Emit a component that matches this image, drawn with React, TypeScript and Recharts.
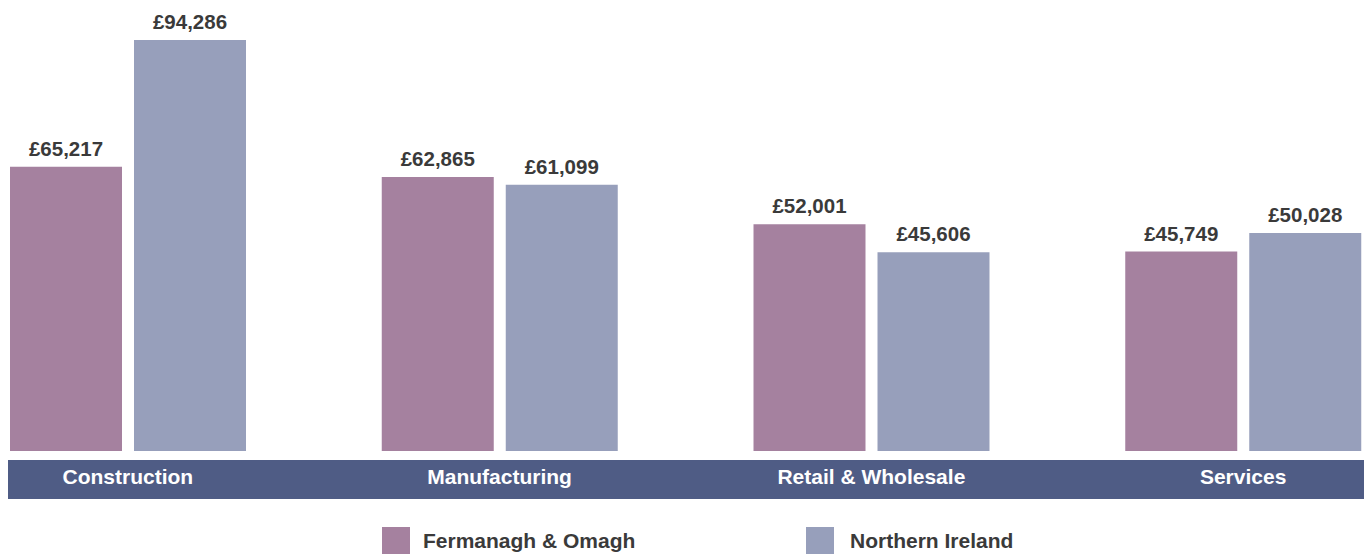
import { BarChart, Bar, XAxis, YAxis, LabelList } from 'recharts';

const categories = ['Construction', 'Manufacturing', 'Retail & Wholesale', 'Services'];
const fermanaghOmagh = [65217, 62865, 52001, 45749];
const northernIreland = [94286, 61099, 45606, 50028];
const seriesNames = ['Fermanagh & Omagh', 'Northern Ireland'];
const seriesColors = ['#a5819f', '#979fbb'];

const data = categories.map((name, i) => ({
  name,
  fo: fermanaghOmagh[i],
  ni: northernIreland[i],
}));

const FONT = '"Liberation Sans", Arial, Helvetica, sans-serif';

const fmt = (v: number) => '£' + v.toLocaleString('en-GB');

function CategoryTick({ x, y, payload }: any) {
  return (
    <text
      x={x}
      y={y + 27}
      textAnchor="middle"
      dominantBaseline="middle"
      fill="#ffffff"
      fontFamily={FONT}
      fontWeight="bold"
      fontSize={21}
    >
      {payload.value}
    </text>
  );
}

const labelStyle = { fill: '#3a3a3a', fontFamily: FONT, fontWeight: 'bold', fontSize: 20.5 };

export default function App() {
  return (
    <div style={{ position: 'absolute', top: 0, left: 0, width: 1364, height: 554, overflow: 'hidden', background: '#fff' }}>
      <div style={{ position: 'absolute', left: 8, top: 460, width: 1356, height: 39, background: '#4f5c85' }} />
      <div style={{ position: 'absolute', left: -58, top: 0 }}>
        <BarChart
          width={1487}
          height={554}
          data={data}
          margin={{ top: 40, right: 0, bottom: 0, left: 0 }}
          barCategoryGap={68}
          barGap={12}
        >
          <XAxis
            dataKey="name"
            height={103}
            axisLine={false}
            tickLine={false}
            tickSize={0}
            tickMargin={0}
            interval={0}
            tick={<CategoryTick />}
          />
          <YAxis hide domain={[0, 94286]} />
          <Bar dataKey="fo" fill={seriesColors[0]} barSize={112} isAnimationActive={false}>
            <LabelList dataKey="fo" position="top" offset={11} formatter={(v: any) => fmt(Number(v))} style={labelStyle} />
          </Bar>
          <Bar dataKey="ni" fill={seriesColors[1]} barSize={112} isAnimationActive={false}>
            <LabelList dataKey="ni" position="top" offset={11} formatter={(v: any) => fmt(Number(v))} style={labelStyle} />
          </Bar>
        </BarChart>
      </div>
      {seriesNames.map((s, i) => (
        <div
          key={s}
          style={{
            position: 'absolute',
            left: i === 0 ? 382 : 806,
            top: 527,
            display: 'flex',
            alignItems: 'center',
            fontFamily: FONT,
            fontWeight: 'bold',
            fontSize: 21,
            color: '#3a3a3a',
          }}
        >
          <span style={{ display: 'inline-block', width: 28, height: 27, background: seriesColors[i], marginRight: i === 0 ? 13 : 16 }} />
          <span>{s}</span>
        </div>
      ))}
    </div>
  );
}
